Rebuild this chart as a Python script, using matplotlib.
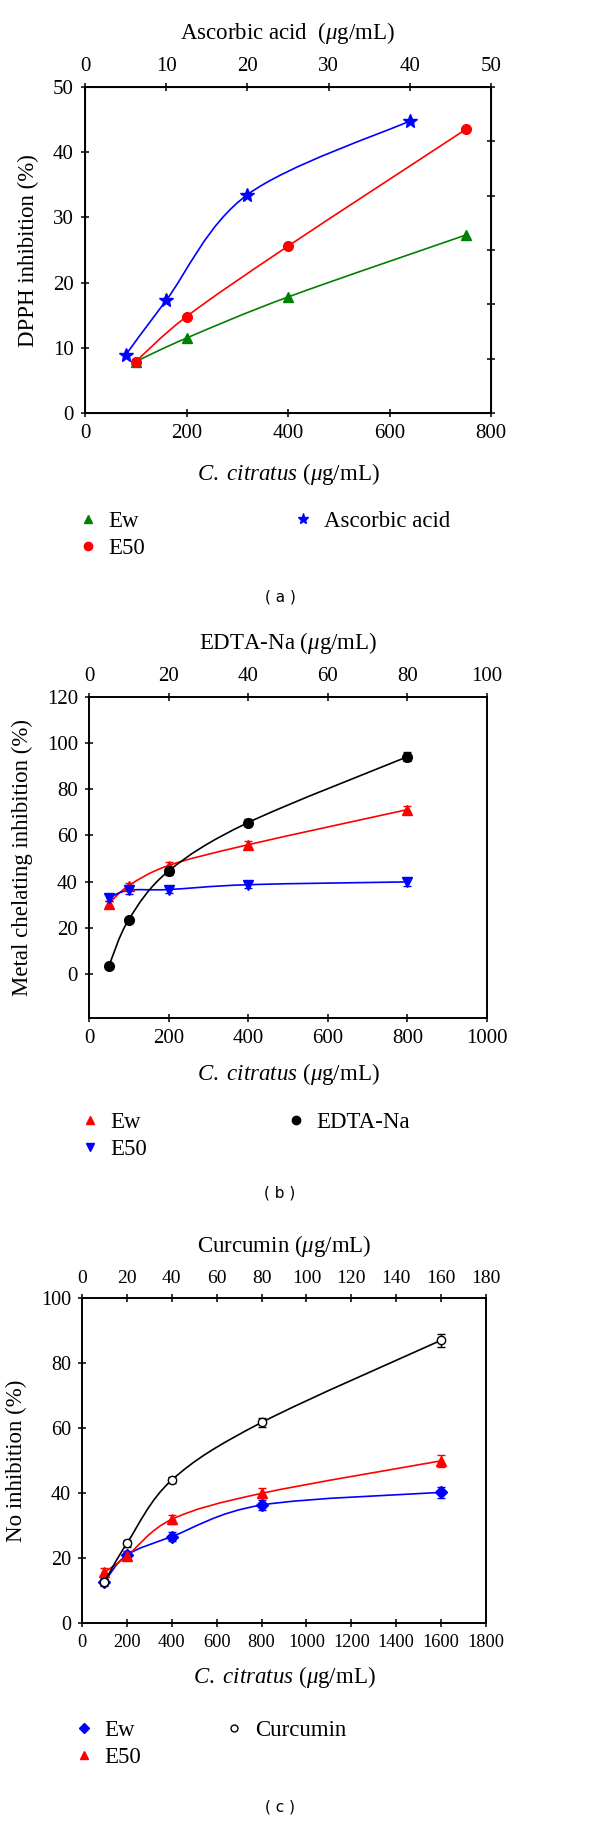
import matplotlib
matplotlib.use('Agg')
import matplotlib.pyplot as plt
from matplotlib.path import Path
from matplotlib.patches import PathPatch
from matplotlib.lines import Line2D
import numpy as np

plt.rcParams['font.family'] = ['Liberation Serif', 'DejaVu Serif']
plt.rcParams['mathtext.fontset'] = 'custom'
plt.rcParams['mathtext.rm'] = 'Liberation Serif'
plt.rcParams['mathtext.it'] = 'Liberation Serif:italic'

# ---- data ----
# (a) DPPH
a_conc = [100, 200, 400, 750]          # C. citratus (ug/mL)
a_ew = [7.9, 11.5, 17.8, 27.3]
a_e50 = [7.9, 14.8, 25.6, 43.5]
a_asc_conc = [5, 10, 20, 40]           # ascorbic acid (ug/mL)
a_asc = [8.9, 17.3, 33.5, 44.8]

# (b) metal chelating
b_conc = [50, 100, 200, 400, 800]
b_ew = [30.5, 38.3, 47.0, 56.0, 71.2]
b_ew_err = [1.2, 1.3, 1.5, 1.6, 1.6]
b_e50 = [33.0, 36.3, 36.6, 38.7, 39.9]
b_e50_err = [1.5, 1.8, 1.6, 1.6, 1.8]
b_edta_conc = [5, 10, 20, 40, 80]
b_edta = [3.5, 23.6, 44.6, 65.6, 94.1]
b_edta_err = [1.0, 1.0, 1.5, 1.5, 2.0]

# (c) NO inhibition
c_conc = [100, 200, 400, 800, 1600]
c_ew = [12.7, 20.9, 26.6, 36.3, 40.2]
c_ew_err = [1.2, 1.2, 1.3, 1.5, 1.8]
c_e50 = [15.6, 20.6, 31.9, 39.9, 49.9]
c_e50_err = [1.3, 1.2, 1.3, 1.5, 1.8]
c_cur_conc = [10, 20, 40, 80, 160]
c_cur = [12.7, 24.5, 44.0, 61.7, 87.0]
c_cur_err = [1.0, 1.0, 1.0, 1.5, 2.0]

LAB_FS = 16.5
LEG_FS = 16.5


def smooth_line(ax, x, y, color):
    # Catmull-Rom curve through the points, drawn as a bezier path
    pts = np.column_stack([x, y]).astype(float)
    ext = np.vstack([pts[0], pts, pts[-1]])
    verts = [tuple(pts[0])]
    codes = [Path.MOVETO]
    for i in range(1, len(ext) - 2):
        p0, p1, p2, p3 = ext[i - 1], ext[i], ext[i + 1], ext[i + 2]
        verts += [tuple(p1 + (p2 - p0) / 6.0), tuple(p2 - (p3 - p1) / 6.0), tuple(p2)]
        codes += [Path.CURVE4] * 3
    ax.add_patch(PathPatch(Path(verts, codes), fill=False, edgecolor=color, lw=1.2, zorder=2))


def style(ax, fs):
    for s in ax.spines.values():
        s.set_linewidth(1.2)
    ax.tick_params(direction='inout', length=6, width=1.1, labelsize=fs, pad=5)


def legends(h_left, lab_left, h_right, lab_right, xl, xr, ytop):
    fig.legend(h_left, lab_left, loc='upper left', bbox_to_anchor=(xl / 600, 1 - ytop / 1822),
               frameon=False, fontsize=LEG_FS, handlelength=0.8, handletextpad=0.5,
               labelspacing=0.25, borderaxespad=0, borderpad=0)
    fig.legend(h_right, lab_right, loc='upper left', bbox_to_anchor=(xr / 600, 1 - ytop / 1822),
               frameon=False, fontsize=LEG_FS, handlelength=0.8, handletextpad=0.5,
               borderaxespad=0, borderpad=0)


fig = plt.figure(figsize=(6, 18.22), dpi=100)

# ---------------- (a) ----------------
ax = fig.add_axes([0.1417, 0.7733, 0.6767, 0.1789])
ax.set_xlim(0, 800)
ax.set_ylim(0, 50)
ax.set_xticks(range(0, 801, 200))
ax.set_yticks(range(0, 51, 10))
style(ax, 15)
smooth_line(ax, a_conc, a_ew, 'green')
smooth_line(ax, a_conc, a_e50, 'red')
ax.plot(a_conc, a_ew, '^', color='green', ms=7, zorder=3)
ax.plot(a_conc, a_e50, 'o', color='red', ms=7, zorder=3)
ax.set_xlabel(r'$\mathit{C.\ citratus}$ ($\mathit{\mu}$g/mL)', fontsize=LAB_FS, labelpad=13)
ax.set_ylabel('DPPH inhibition (%)', fontsize=LAB_FS, labelpad=10)

axt = ax.twiny()
axt.set_xlim(0, 50)
axt.set_xticks(range(0, 51, 10))
style(axt, 15)
smooth_line(axt, a_asc_conc, a_asc, 'blue')
axt.plot(a_asc_conc, a_asc, '*', color='blue', ms=10, zorder=3)
axt.set_xlabel(r'Ascorbic acid  ($\mathit{\mu}$g/mL)', fontsize=LAB_FS, labelpad=13)

axr = ax.twinx()
axr.set_ylim(0, 60)
axr.set_yticks(range(0, 61, 10))
axr.tick_params(direction='inout', length=6, width=1.1, labelright=False)

legends([Line2D([], [], ls='', marker='^', color='green', ms=6),
         Line2D([], [], ls='', marker='o', color='red', ms=6)], ['Ew', 'E50'],
        [Line2D([], [], ls='', marker='*', color='blue', ms=8)], ['Ascorbic acid'],
        79, 294, 511)
fig.text(280 / 600, 1 - 597 / 1822, '( a )', family='DejaVu Sans', fontsize=11,
         ha='center', va='center')

# ---------------- (b) ----------------
ax = fig.add_axes([0.1483, 0.4413, 0.6633, 0.1762])
ax.set_xlim(0, 1000)
ax.set_ylim(-19, 120)
ax.set_xticks(range(0, 1001, 200))
ax.set_yticks(range(0, 121, 20))
style(ax, 15)
smooth_line(ax, b_conc, b_ew, 'red')
smooth_line(ax, b_conc, b_e50, 'blue')
ax.errorbar(b_conc, b_ew, yerr=b_ew_err, fmt='^', color='red', ms=7, capsize=3,
            elinewidth=1, zorder=3)
ax.errorbar(b_conc, b_e50, yerr=b_e50_err, fmt='v', color='blue', ms=7, capsize=3,
            elinewidth=1, zorder=3)
ax.set_xlabel(r'$\mathit{C.\ citratus}$ ($\mathit{\mu}$g/mL)', fontsize=LAB_FS, labelpad=9)
ax.set_ylabel('Metal chelating inhibition (%)', fontsize=LAB_FS, labelpad=10)

axt = ax.twiny()
axt.set_xlim(0, 100)
axt.set_xticks(range(0, 101, 20))
style(axt, 15)
smooth_line(axt, b_edta_conc, b_edta, 'black')
axt.errorbar(b_edta_conc, b_edta, yerr=b_edta_err, fmt='o', color='black', ms=7,
             capsize=3, elinewidth=1, zorder=3)
axt.set_xlabel(r'EDTA-Na ($\mathit{\mu}$g/mL)', fontsize=LAB_FS, labelpad=13)

legends([Line2D([], [], ls='', marker='^', color='red', ms=6),
         Line2D([], [], ls='', marker='v', color='blue', ms=6)], ['Ew', 'E50'],
        [Line2D([], [], ls='', marker='o', color='black', ms=6)], ['EDTA-Na'],
        81, 287, 1112)
fig.text(280 / 600, 1 - 1193 / 1822, '( b )', family='DejaVu Sans', fontsize=11,
         ha='center', va='center')

# ---------------- (c) ----------------
ax = fig.add_axes([0.1367, 0.1092, 0.6733, 0.1784])
ax.set_xlim(0, 1800)
ax.set_ylim(0, 100)
ax.set_xticks(range(0, 1801, 200))
ax.set_yticks(range(0, 101, 20))
style(ax, 14.5)
ax.tick_params(axis='x', labelsize=13.2)
smooth_line(ax, c_conc, c_ew, 'blue')
smooth_line(ax, c_conc, c_e50, 'red')
ax.errorbar(c_conc, c_ew, yerr=c_ew_err, fmt='D', color='blue', ms=6, capsize=3,
            elinewidth=1, zorder=3)
ax.errorbar(c_conc, c_e50, yerr=c_e50_err, fmt='^', color='red', ms=7, capsize=3,
            elinewidth=1, zorder=3)
ax.set_xlabel(r'$\mathit{C.\ citratus}$ ($\mathit{\mu}$g/mL)', fontsize=LAB_FS, labelpad=9)
ax.set_ylabel('No inhibition (%)', fontsize=LAB_FS, labelpad=10)

axt = ax.twiny()
axt.set_xlim(0, 180)
axt.set_xticks(range(0, 181, 20))
style(axt, 14)
smooth_line(axt, c_cur_conc, c_cur, 'black')
axt.errorbar(c_cur_conc, c_cur, yerr=c_cur_err, fmt='o', color='black', mfc='white',
             ms=6, capsize=3, elinewidth=1, zorder=3)
axt.set_xlabel(r'Curcumin ($\mathit{\mu}$g/mL)', fontsize=LAB_FS, labelpad=13)

legends([Line2D([], [], ls='', marker='D', color='blue', ms=5),
         Line2D([], [], ls='', marker='^', color='red', ms=6)], ['Ew', 'E50'],
        [Line2D([], [], ls='', marker='o', color='black', mfc='white', ms=5)], ['Curcumin'],
        75, 225, 1720)
fig.text(280 / 600, 1 - 1807 / 1822, '( c )', family='DejaVu Sans', fontsize=11,
         ha='center', va='center')

fig.savefig('out.png', dpi=100)
